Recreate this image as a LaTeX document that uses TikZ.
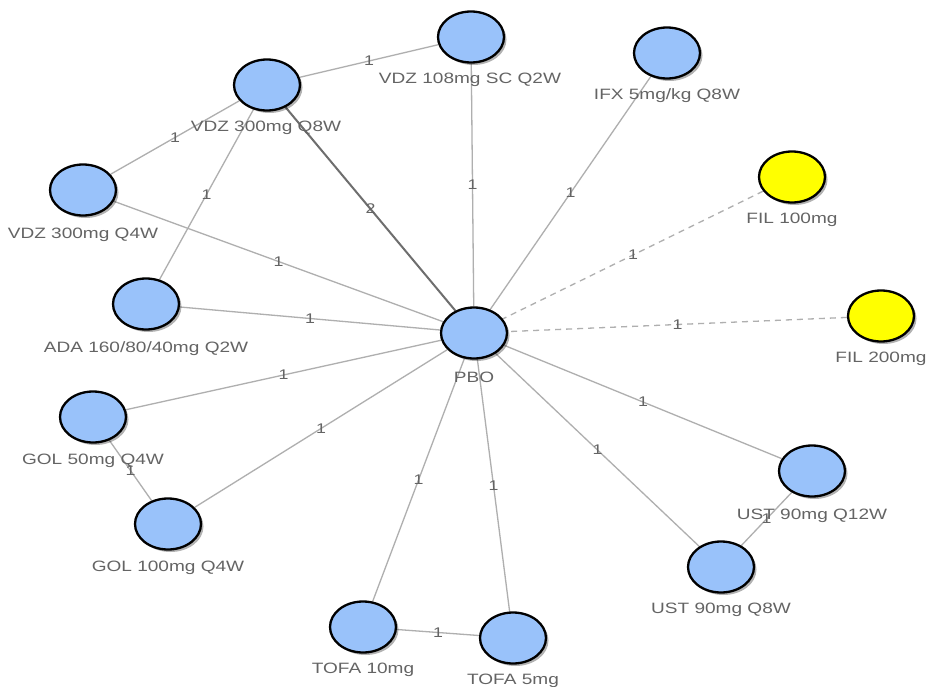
\documentclass[tikz,border=0pt]{standalone}
\usepackage{fontspec}
\setmainfont{Liberation Sans}
\newfontfamily\lblfont[FakeStretch=1.27]{Liberation Sans}
\usetikzlibrary{shapes.geometric,shadows,backgrounds}
\definecolor{nodeblue}{RGB}{153,194,250}
\definecolor{nodeyellow}{RGB}{255,255,0}
\definecolor{txtgray}{RGB}{100,100,100}
\definecolor{edgegray}{RGB}{175,175,175}
\definecolor{edgedark}{RGB}{110,110,110}
\begin{document}
\begin{tikzpicture}[x=1pt,y=-1pt,
  trt/.style={ellipse, draw=black, line width=2.3pt, fill=nodeblue,
    minimum width=66pt, minimum height=51pt, inner sep=0pt,
    drop shadow={opacity=0.3, shadow xshift=2.5pt, shadow yshift=-2.5pt, fill=black}},
  fil/.style={trt, fill=nodeyellow},
  lbl/.style={text=txtgray, font=\lblfont\fontsize{15}{18}\selectfont, inner sep=0pt},
  elbl/.style={text=txtgray, font=\lblfont\fontsize{14}{16}\selectfont, inner sep=0pt},
  link/.style={draw=edgegray, line width=1.3pt},
  link2/.style={draw=edgedark, line width=2pt},
  dlink/.style={link, dash pattern=on 6pt off 5pt}]
\useasboundingbox (0,0) rectangle (928,687);

% nodes
\node[trt] (vdz108) at (471,37) {};
\node[trt] (vdz8) at (267,85) {};
\node[trt] (ifx) at (667,53) {};
\node[fil] (fil100) at (792,177) {};
\node[fil] (fil200) at (881,316) {};
\node[trt] (vdz4) at (83,190) {};
\node[trt] (ada) at (146,304) {};
\node[trt] (pbo) at (474,333) {};
\node[trt] (gol50) at (93,417) {};
\node[trt] (gol100) at (168,524) {};
\node[trt] (tofa10) at (363,627) {};
\node[trt] (tofa5) at (513,638) {};
\node[trt] (ust12) at (812,471) {};
\node[trt] (ust8) at (721,567) {};

% labels
\node[lbl] (vdz108-t) at (470,80) {VDZ 108mg SC Q2W};
\node[lbl] (vdz8-t) at (266,128) {VDZ 300mg Q8W};
\node[lbl] (ifx-t) at (667,96) {IFX 5mg/kg Q8W};
\node[lbl] (fil100-t) at (792,220) {FIL 100mg};
\node[lbl] (fil200-t) at (881,359) {FIL 200mg};
\node[lbl] (vdz4-t) at (83,235) {VDZ 300mg Q4W};
\node[lbl] (ada-t) at (146,349) {ADA 160/80/40mg Q2W};
\node[lbl] (pbo-t) at (474,377) {PBO};
\node[lbl] (gol50-t) at (93,461) {GOL 50mg Q4W};
\node[lbl] (gol100-t) at (168,568) {GOL 100mg Q4W};
\node[lbl] (tofa10-t) at (363,670) {TOFA 10mg};
\node[lbl] (tofa5-t) at (513,681) {TOFA 5mg};
\node[lbl] (ust12-t) at (812,516) {UST 90mg Q12W};
\node[lbl] (ust8-t) at (721,610) {UST 90mg Q8W};

% edges
\begin{scope}[on background layer]
\fill[white] (0,0) rectangle (928,687);
\draw[link] (vdz8) -- node[elbl]{1} (vdz108);
\draw[link] (vdz108) -- node[elbl]{1} (pbo);
\draw[link] (ifx) -- node[elbl]{1} (pbo);
\draw[dlink] (fil100) -- node[elbl]{1} (pbo);
\draw[dlink] (fil200) -- node[elbl]{1} (pbo);
\draw[link] (vdz8) -- node[elbl]{1} (vdz4);
\draw[link] (vdz8) -- node[elbl]{1} (ada);
\draw[link2] (vdz8) -- node[elbl]{2} (pbo);
\draw[link] (vdz4) -- node[elbl]{1} (pbo);
\draw[link] (ada) -- node[elbl]{1} (pbo);
\draw[link] (gol50) -- node[elbl]{1} (pbo);
\draw[link] (gol100) -- node[elbl]{1} (pbo);
\draw[link] (gol50) -- node[elbl]{1} (gol100);
\draw[link] (tofa10) -- node[elbl]{1} (pbo);
\draw[link] (tofa5) -- node[elbl]{1} (pbo);
\draw[link] (tofa10) -- node[elbl]{1} (tofa5);
\draw[link] (ust12) -- node[elbl]{1} (pbo);
\draw[link] (ust8) -- node[elbl]{1} (pbo);
\draw[link] (ust12) -- node[elbl]{1} (ust8);
\end{scope}
\end{tikzpicture}
\end{document}
